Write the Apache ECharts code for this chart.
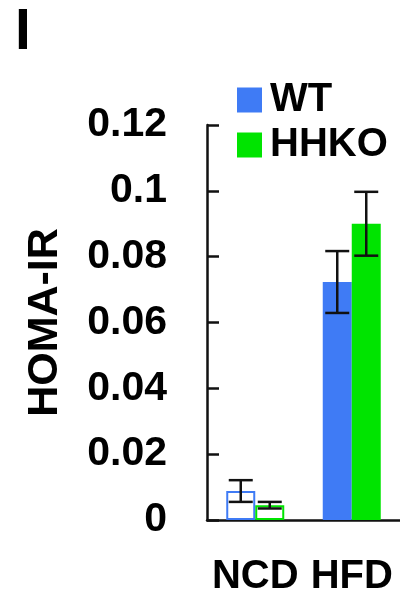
<!DOCTYPE html>
<html>
<head>
<meta charset="utf-8">
<script src="https://cdn.jsdelivr.net/npm/echarts@6/dist/echarts.min.js"></script>
<style>
  html, body { margin: 0; padding: 0; background: #fff; }
  #chart { width: 400px; height: 597px; }
</style>
</head>
<body>
<div id="chart"></div>
<script>
var categories = ['NCD', 'HFD'];
var wtValues = [0.0088, 0.0723];
var wtErrors = [0.0033, 0.0094];
var hhkoValues = [0.0045, 0.0900];
var hhkoErrors = [0.0010, 0.0097];
var yTicks = [0, 0.02, 0.04, 0.06, 0.08, 0.1, 0.12];

var blue = '#3f7bf5';
var green = '#00e400';
var ink = '#111';
var font = 'Liberation Sans, Arial, sans-serif';

var chart = echarts.init(document.getElementById('chart'));

// NCD bars are drawn hollow, HFD bars filled
function barData(vals, color) {
    return vals.map(function (v, i) {
        if (i === 0) {
            return {value: v, itemStyle: {color: '#fff', borderColor: color, borderWidth: 2}};
        }
        return v;
    });
}

function errorData(vals, errs) {
    return vals.map(function (v, i) {
        return [i, v - errs[i], v + errs[i]];
    });
}

function errorRenderer(offset) {
    return function (params, api) {
        var lo = api.coord([api.value(0), api.value(1)]);
        var hi = api.coord([api.value(0), api.value(2)]);
        var x = lo[0] + offset;
        var half = 12;
        var style = {stroke: ink, lineWidth: 2.5};
        return {
            type: 'group',
            children: [
                {type: 'line', shape: {x1: x, y1: lo[1], x2: x, y2: hi[1]}, style: style},
                {type: 'line', shape: {x1: x - half, y1: hi[1], x2: x + half, y2: hi[1]}, style: style},
                {type: 'line', shape: {x1: x - half, y1: lo[1], x2: x + half, y2: lo[1]}, style: style}
            ]
        };
    };
}

var option = {
    backgroundColor: '#fff',
    animation: false,
    title: {
        text: 'I',
        left: 10,
        top: 0,
        textStyle: {fontFamily: font, fontSize: 57, fontWeight: 'bold', color: '#000'}
    },
    legend: {
        orient: 'vertical',
        left: 237,
        top: 80,
        padding: 0,
        itemWidth: 25,
        itemHeight: 25,
        itemGap: 5,
        icon: 'rect',
        data: ['WT', 'HHKO'],
        textStyle: {fontFamily: font, fontSize: 40, fontWeight: 'bold', color: '#000', padding: [0, 0, 0, 3]}
    },
    grid: {left: 207, right: -3, top: 125, bottom: 75},
    xAxis: {
        type: 'category',
        data: categories,
        axisLine: {lineStyle: {color: ink, width: 2.5}},
        axisTick: {show: false},
        axisLabel: {interval: 0, hideOverlap: false, fontFamily: font, fontSize: 40, fontWeight: 'bold', color: '#000', margin: 37}
    },
    yAxis: {
        type: 'value',
        min: yTicks[0],
        max: yTicks[yTicks.length - 1],
        interval: 0.02,
        name: 'HOMA-IR',
        nameLocation: 'middle',
        nameRotate: 90,
        nameGap: 140,
        nameTextStyle: {fontFamily: font, fontSize: 43, fontWeight: 'bold', color: '#000'},
        splitLine: {show: false},
        axisLine: {show: true, lineStyle: {color: ink, width: 2.5}},
        axisTick: {show: true, inside: true, length: 12, lineStyle: {color: ink, width: 2.5}},
        axisLabel: {fontFamily: font, fontSize: 41, fontWeight: 'bold', color: '#000', margin: 40, padding: [14, 0, 0, 0]}
    },
    series: [
        {
            name: 'WT',
            type: 'bar',
            barWidth: 29,
            barGap: '0%',
            itemStyle: {color: blue},
            data: barData(wtValues, blue)
        },
        {
            name: 'HHKO',
            type: 'bar',
            barWidth: 29,
            barGap: '0%',
            itemStyle: {color: green},
            data: barData(hhkoValues, green)
        },
        {
            type: 'custom',
            renderItem: errorRenderer(-14.5),
            data: errorData(wtValues, wtErrors),
            z: 5
        },
        {
            type: 'custom',
            renderItem: errorRenderer(14.5),
            data: errorData(hhkoValues, hhkoErrors),
            z: 5
        }
    ]
};

chart.setOption(option);
</script>
</body>
</html>
